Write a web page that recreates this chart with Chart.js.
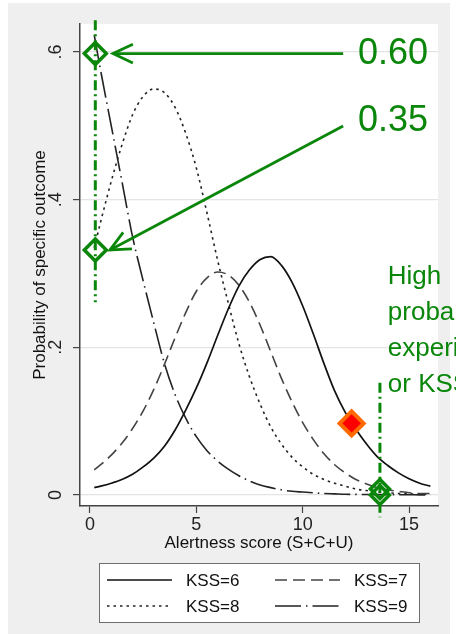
<!DOCTYPE html>
<html lang="en">
<head>
<meta charset="UTF-8">
<title>Probability of specific outcome by alertness score</title>
<script src="https://cdn.jsdelivr.net/npm/chart.js@4.4.1/dist/chart.umd.min.js"></script>
<style>
  html, body { margin: 0; padding: 0; background: #fff; }
  canvas { display: block; }
</style>
</head>
<body>
<canvas id="kssChart" width="456" height="634"></canvas>
<script>
const alertness = [0.2, 0.5, 1, 1.5, 2, 2.5, 3, 3.5, 4, 4.5,
                   5, 5.5, 6, 6.5, 7, 7.5, 8, 8.5, 9, 9.5,
                   10, 10.5, 11, 11.5, 12, 12.5, 13, 13.5, 14, 14.5,
                   15, 15.5, 16];

// probability of each KSS level
const kss6 = [0.010, 0.012, 0.016, 0.021, 0.028, 0.038, 0.050, 0.066, 0.088, 0.115,
              0.145, 0.179, 0.216, 0.252, 0.283, 0.305, 0.319, 0.323, 0.311, 0.288,
              0.256, 0.218, 0.178, 0.141, 0.112, 0.089, 0.069, 0.052, 0.040, 0.030,
              0.022, 0.016, 0.012];
const kss7 = [0.034, 0.041, 0.054, 0.070, 0.090, 0.114, 0.143, 0.177, 0.213, 0.247,
              0.276, 0.294, 0.302, 0.298, 0.284, 0.261, 0.230, 0.194, 0.158, 0.126,
              0.098, 0.075, 0.056, 0.041, 0.030, 0.021, 0.015, 0.010, 0.007, 0.005,
              0.003, 0.002, 0.002];
const kss8 = [0.335, 0.370, 0.425, 0.474, 0.515, 0.540, 0.550, 0.545, 0.525, 0.490,
              0.443, 0.382, 0.318, 0.260, 0.205, 0.160, 0.123, 0.092, 0.069, 0.051,
              0.038, 0.028, 0.021, 0.016, 0.012, 0.008, 0.006, 0.004, 0.003, 0.002,
              0.0015, 0.001, 0.001];
const kss9 = [0.623, 0.575, 0.500, 0.425, 0.350, 0.290, 0.233, 0.178, 0.136, 0.104,
              0.079, 0.060, 0.046, 0.035, 0.026, 0.019, 0.0135, 0.010, 0.007, 0.005,
              0.004, 0.003, 0.002, 0.0015, 0.001, 0.0008, 0.0006, 0.0005, 0.0004, 0.0003,
              0.0003, 0.0002, 0.0002];

const xTicks = [0, 5, 10, 15];
const yTicks = [0, 0.2, 0.4, 0.6];
const yTickLabels = ['0', '.2', '.4', '.6'];

// highlighted points
const lowX = [0.25, 0.25];
const lowY = [0.598, 0.332];
const highX = [13.63, 13.63];
const highY = [0.008, 0];
const redX = [12.3];
const redY = [0.097];

const GREEN = '#0a870a';
const FONT = '"Liberation Sans", Arial, sans-serif';

const curves = [
    { label: 'KSS=6', values: kss6, color: '#111', dash: [], width: 1.7 },
    { label: 'KSS=7', values: kss7, color: '#444', dash: [12, 6], width: 1.6 },
    { label: 'KSS=8', values: kss8, color: '#222', dash: [2.5, 4], width: 1.6 },
    { label: 'KSS=9', values: kss9, color: '#222', dash: [26, 5, 1.5, 5], width: 1.6 }
];

function pts(xs, ys) {
    return xs.map((x, i) => ({ x: x, y: ys[i] }));
}

const curveSets = curves.map(c => ({
    label: c.label,
    data: pts(alertness, c.values),
    borderColor: c.color,
    borderWidth: c.width,
    borderDash: c.dash,
    pointRadius: 0,
    fill: false,
    cubicInterpolationMode: 'monotone',
    order: 2
}));

const guideSets = [
    { data: [{ x: 0.25, y: 0.643 }, { x: 0.25, y: 0.261 }] },
    { data: [{ x: 13.63, y: 0.152 }, { x: 13.63, y: -0.030 }] }
].map(g => Object.assign(g, {
    borderColor: GREEN,
    borderWidth: 3,
    borderDash: [10, 4, 2, 4],
    pointRadius: 0,
    clip: false,
    order: 1
}));

function markerSet(data, radius, fillCol, lineCol, lw) {
    return {
        data: data,
        showLine: false,
        pointStyle: 'rectRot',
        pointRadius: radius,
        pointBackgroundColor: fillCol,
        pointBorderColor: lineCol,
        pointBorderWidth: lw,
        clip: false,
        order: 0
    };
}

const markerSets = [
    markerSet(pts(lowX, lowY), 11, 'rgba(0,0,0,0)', GREEN, 3.5),
    markerSet(pts(highX, highY), 9.5, 'rgba(0,0,0,0)', GREEN, 3.5),
    markerSet(pts(redX, redY), 12, '#ff0000', '#ff6a00', 4)
];

// grey page, white plot region
const backdrop = {
    id: 'backdrop',
    beforeDraw(chart) {
        const { ctx, chartArea: a } = chart;
        ctx.save();
        ctx.fillStyle = '#ffffff';
        ctx.fillRect(0, 0, chart.width, chart.height);
        ctx.fillStyle = '#efefef';
        ctx.fillRect(8, 3, 442, chart.height - 3);
        ctx.fillStyle = '#ffffff';
        ctx.fillRect(a.left, a.top, a.right - a.left, a.bottom - a.top);
        ctx.restore();
    }
};

// arrows and green notes
const arrows = [
    { from: [11.9, 0.598], to: [1.08, 0.598] },
    { from: [11.9, 0.4997], to: [0.94, 0.332] }
];
const callouts = [
    { text: '0.60', at: [12.6, 0.598] },
    { text: '0.35', at: [12.6, 0.508] }
];
const noteLines = ['High', 'probability', 'experience', 'or KSS'];
const noteAt = [14.0, 0.295];

const annotations = {
    id: 'annotations',
    afterDatasetsDraw(chart) {
        const { ctx, scales: { x, y } } = chart;
        ctx.save();
        ctx.strokeStyle = GREEN;
        ctx.fillStyle = GREEN;
        ctx.lineWidth = 2.8;
        ctx.lineCap = 'butt';
        arrows.forEach(ar => {
            const x0 = x.getPixelForValue(ar.from[0]), y0 = y.getPixelForValue(ar.from[1]);
            const x1 = x.getPixelForValue(ar.to[0]), y1 = y.getPixelForValue(ar.to[1]);
            const ang = Math.atan2(y0 - y1, x0 - x1);
            ctx.beginPath();
            ctx.moveTo(x0, y0);
            ctx.lineTo(x1, y1);
            ctx.stroke();
            ctx.beginPath();
            ctx.moveTo(x1 + 22 * Math.cos(ang - 0.44), y1 + 22 * Math.sin(ang - 0.44));
            ctx.lineTo(x1, y1);
            ctx.lineTo(x1 + 22 * Math.cos(ang + 0.44), y1 + 22 * Math.sin(ang + 0.44));
            ctx.stroke();
        });
        ctx.textBaseline = 'middle';
        ctx.textAlign = 'left';
        ctx.font = '36px ' + FONT;
        callouts.forEach(c => {
            ctx.fillText(c.text, x.getPixelForValue(c.at[0]), y.getPixelForValue(c.at[1]) + 1);
        });
        ctx.font = '26px ' + FONT;
        const nx = x.getPixelForValue(noteAt[0]);
        const ny = y.getPixelForValue(noteAt[1]);
        noteLines.forEach((t, i) => ctx.fillText(t, nx, ny + i * 36));
        ctx.restore();
    }
};

const kssLegend = {
    id: 'kssLegend',
    afterDraw(chart) {
        const ctx = chart.ctx;
        ctx.save();
        ctx.fillStyle = '#fff';
        ctx.fillRect(99.5, 563.5, 320, 59);
        ctx.strokeStyle = '#6e6e6e';
        ctx.lineWidth = 1;
        ctx.strokeRect(99.5, 563.5, 320, 59);
        ctx.font = '17px ' + FONT;
        ctx.textBaseline = 'middle';
        curves.forEach((c, i) => {
            const x0 = 107 + (i % 2) * 168;
            const yy = 580 + Math.floor(i / 2) * 26;
            ctx.beginPath();
            ctx.setLineDash(c.dash);
            ctx.strokeStyle = c.color;
            ctx.lineWidth = c.width;
            ctx.moveTo(x0, yy);
            ctx.lineTo(x0 + 65, yy);
            ctx.stroke();
            ctx.setLineDash([]);
            ctx.fillStyle = '#111';
            ctx.fillText(c.label, x0 + 79, yy + 1);
        });
        ctx.restore();
    }
};

new Chart(document.getElementById('kssChart'), {
    type: 'line',
    data: { datasets: [...markerSets, ...guideSets, ...curveSets] },
    options: {
        responsive: false,
        animation: false,
        devicePixelRatio: 1,
        layout: { padding: { left: 0, top: 24, right: 18, bottom: 78 } },
        plugins: { legend: { display: false }, tooltip: { enabled: false } },
        scales: {
            x: {
                type: 'linear',
                min: -0.47,
                max: 16.36,
                afterBuildTicks: s => { s.ticks = xTicks.map(v => ({ value: v })); },
                afterFit: s => { s.height = 50; },
                ticks: { autoSkip: false, maxRotation: 0, padding: 1, color: '#222', font: { family: FONT, size: 18 } },
                grid: { drawOnChartArea: false, tickLength: 7, tickColor: '#444', tickWidth: 1.2 },
                border: { color: '#444', width: 1.5 },
                title: { display: true, text: 'Alertness score (S+C+U)', color: '#111',
                         font: { family: FONT, size: 17 }, padding: { top: 0, bottom: 2 } }
            },
            y: {
                type: 'linear',
                min: -0.0149,
                max: 0.638,
                afterBuildTicks: s => { s.ticks = yTicks.map(v => ({ value: v })); },
                afterFit: s => { s.width = 80; },
                ticks: {
                    autoSkip: false, minRotation: 90, maxRotation: 90, crossAlign: 'center',
                    padding: 9, color: '#222', font: { family: FONT, size: 18 },
                    callback: (v, i) => yTickLabels[i]
                },
                grid: { color: '#e4e4e4', lineWidth: 1.2, tickLength: 7, tickColor: '#444', tickWidth: 1.2 },
                border: { color: '#444', width: 1.5 },
                title: { display: true, text: 'Probability of specific outcome', color: '#111',
                         font: { family: FONT, size: 17 }, padding: { top: 30, bottom: 0 } }
            }
        }
    },
    plugins: [backdrop, annotations, kssLegend]
});
</script>
</body>
</html>
